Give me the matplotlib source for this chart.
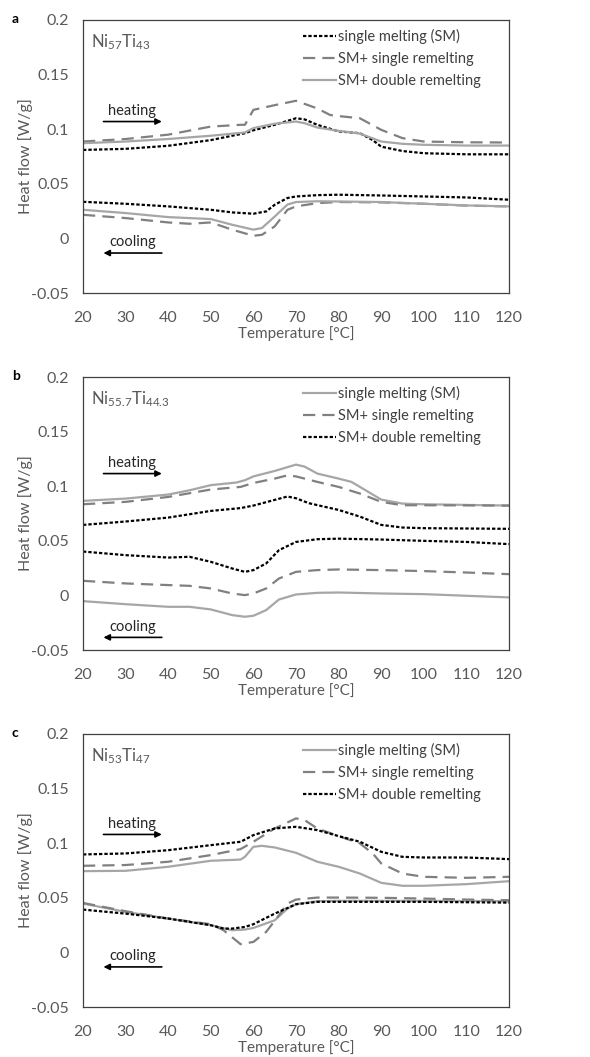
import matplotlib
matplotlib.use("Agg")
import matplotlib.pyplot as plt

plt.rcParams['font.family'] = ['Lato', 'DejaVu Sans']
plt.rcParams['mathtext.fontset'] = 'custom'
plt.rcParams['mathtext.rm'] = 'Lato'
plt.rcParams['mathtext.it'] = 'Lato'

GREY_TXT = '#595959'

# ---- panel a : Ni57Ti43 ----
a_sm_heat_x = [20, 30, 40, 50, 55, 58, 60, 65, 70, 72, 75, 80, 85, 88, 90, 95, 100, 110, 120]
a_sm_heat_y = [0.081, 0.082, 0.0848, 0.090, 0.094, 0.0963, 0.099, 0.104, 0.110, 0.109, 0.104, 0.098, 0.0963, 0.090, 0.084, 0.080, 0.078, 0.077, 0.077]
a_r1_heat_x = [20, 30, 40, 50, 57, 58, 60, 65, 70, 75, 78, 80, 85, 90, 95, 100, 110, 120]
a_r1_heat_y = [0.0887, 0.091, 0.095, 0.1024, 0.104, 0.104, 0.1177, 0.122, 0.126, 0.119, 0.113, 0.112, 0.110, 0.0994, 0.0918, 0.0887, 0.088, 0.0878]
a_r2_heat_x = [20, 30, 40, 50, 58, 60, 65, 70, 72, 75, 80, 85, 90, 95, 100, 110, 120]
a_r2_heat_y = [0.0872, 0.0887, 0.091, 0.094, 0.097, 0.101, 0.105, 0.107, 0.1055, 0.1015, 0.0985, 0.096, 0.0887, 0.0866, 0.0857, 0.085, 0.085]
a_sm_cool_x = [20, 30, 40, 50, 55, 60, 63, 65, 68, 70, 75, 80, 90, 100, 110, 120]
a_sm_cool_y = [0.0335, 0.0317, 0.0293, 0.0262, 0.0238, 0.0226, 0.0247, 0.0308, 0.037, 0.0384, 0.0396, 0.040, 0.0393, 0.0384, 0.0375, 0.0354]
a_r1_cool_x = [20, 30, 40, 45, 50, 55, 60, 62, 65, 68, 70, 75, 80, 90, 100, 110, 120]
a_r1_cool_y = [0.0216, 0.0186, 0.0146, 0.0134, 0.0146, 0.008, 0.0024, 0.0033, 0.011, 0.0262, 0.0293, 0.0323, 0.0333, 0.033, 0.0317, 0.030, 0.0293]
a_r2_cool_x = [20, 30, 40, 50, 55, 60, 62, 65, 68, 70, 75, 80, 90, 100, 110, 120]
a_r2_cool_y = [0.0262, 0.0232, 0.0195, 0.0177, 0.0125, 0.008, 0.0095, 0.020, 0.031, 0.0333, 0.034, 0.0338, 0.0333, 0.0317, 0.0302, 0.0293]

# ---- panel b : Ni55.7Ti44.3 ----
b_sm_heat_x = [20, 30, 40, 45, 50, 56, 58, 60, 65, 70, 72, 75, 80, 83, 85, 90, 95, 100, 120]
b_sm_heat_y = [0.0866, 0.0887, 0.0924, 0.0963, 0.101, 0.1034, 0.1055, 0.109, 0.114, 0.1198, 0.118, 0.1116, 0.107, 0.104, 0.0994, 0.0878, 0.0841, 0.0835, 0.0823]
b_r1_heat_x = [20, 30, 40, 50, 57, 60, 65, 68, 70, 75, 80, 85, 90, 95, 100, 120]
b_r1_heat_y = [0.0835, 0.0857, 0.0902, 0.097, 0.0994, 0.103, 0.107, 0.110, 0.109, 0.104, 0.0994, 0.0933, 0.0857, 0.0826, 0.0826, 0.0823]
b_r2_heat_x = [20, 30, 40, 50, 57, 60, 65, 68, 70, 73, 80, 85, 90, 95, 100, 120]
b_r2_heat_y = [0.0646, 0.0677, 0.0713, 0.0774, 0.080, 0.0823, 0.0875, 0.0906, 0.089, 0.0845, 0.0783, 0.0722, 0.0646, 0.0622, 0.0616, 0.061]
b_sm_cool_x = [20, 30, 40, 45, 50, 55, 58, 60, 63, 66, 70, 75, 80, 90, 100, 110, 120]
b_sm_cool_y = [-0.0052, -0.008, -0.0104, -0.0104, -0.0128, -0.018, -0.0195, -0.0186, -0.0134, -0.0037, 0.0009, 0.0024, 0.0027, 0.0018, 0.0012, -0.0003, -0.0018]
b_r1_cool_x = [20, 30, 40, 45, 50, 55, 58, 60, 63, 66, 70, 75, 80, 90, 100, 110, 120]
b_r1_cool_y = [0.0134, 0.011, 0.0095, 0.0088, 0.0064, 0.0018, 0.0003, 0.0018, 0.0064, 0.0155, 0.0216, 0.0232, 0.0238, 0.0232, 0.0223, 0.021, 0.0195]
b_r2_cool_x = [20, 30, 40, 45, 50, 55, 58, 60, 63, 66, 70, 75, 80, 90, 100, 110, 120]
b_r2_cool_y = [0.0402, 0.0369, 0.0347, 0.0354, 0.0308, 0.0247, 0.0216, 0.0232, 0.0293, 0.0415, 0.049, 0.0515, 0.052, 0.0512, 0.050, 0.049, 0.047]

# ---- panel c : Ni53Ti47 ----
c_sm_heat_x = [20, 30, 40, 50, 57, 58, 60, 62, 65, 70, 75, 80, 85, 90, 95, 100, 110, 120]
c_sm_heat_y = [0.0744, 0.0747, 0.0784, 0.0839, 0.085, 0.0875, 0.0967, 0.0976, 0.0961, 0.0912, 0.083, 0.0784, 0.0722, 0.0637, 0.061, 0.061, 0.0625, 0.0652]
c_r1_heat_x = [20, 30, 40, 50, 57, 60, 65, 70, 72, 75, 80, 85, 88, 90, 95, 100, 110, 120]
c_r1_heat_y = [0.0793, 0.080, 0.083, 0.0891, 0.0946, 0.1013, 0.1135, 0.1227, 0.1212, 0.1135, 0.1065, 0.0998, 0.0906, 0.0815, 0.0722, 0.0692, 0.0683, 0.0692]
c_r2_heat_x = [20, 30, 40, 50, 57, 60, 65, 70, 75, 80, 85, 90, 95, 100, 110, 120]
c_r2_heat_y = [0.0897, 0.0906, 0.0936, 0.0982, 0.1013, 0.1074, 0.1135, 0.115, 0.112, 0.1065, 0.1013, 0.0921, 0.0875, 0.0869, 0.0869, 0.0854]
c_sm_cool_x = [20, 30, 40, 50, 55, 58, 60, 65, 68, 70, 75, 80, 100, 120]
c_sm_cool_y = [0.0447, 0.0371, 0.031, 0.0249, 0.0203, 0.0209, 0.0224, 0.0294, 0.0401, 0.0441, 0.0469, 0.0472, 0.0472, 0.0469]
c_r1_cool_x = [20, 30, 40, 50, 53, 57, 60, 63, 66, 68, 70, 75, 80, 90, 100, 110, 120]
c_r1_cool_y = [0.0453, 0.0377, 0.031, 0.0258, 0.0203, 0.0075, 0.0096, 0.0188, 0.034, 0.0447, 0.0484, 0.0502, 0.0502, 0.050, 0.0493, 0.0484, 0.0478]
c_r2_cool_x = [20, 30, 40, 50, 53, 55, 58, 60, 65, 70, 75, 80, 100, 120]
c_r2_cool_y = [0.0392, 0.0355, 0.031, 0.0249, 0.0218, 0.0218, 0.0233, 0.0258, 0.0355, 0.0441, 0.0463, 0.0463, 0.0463, 0.0456]

legend_labels = ['single melting (SM)', 'SM+ single remelting', 'SM+ double remelting']
x_ticks = [20, 30, 40, 50, 60, 70, 80, 90, 100, 110, 120]
y_ticks = [-0.05, 0, 0.05, 0.1, 0.15, 0.2]
y_tick_labels = ['-0.05', '0', '0.05', '0.1', '0.15', '0.2']

STY = {
    'dot': dict(color='black', lw=1.6, linestyle=(0, (1.5, 0.9))),
    'dash': dict(color='#808080', lw=1.6, linestyle=(0, (5.5, 3.2))),
    'solid': dict(color='#a6a6a6', lw=1.6, linestyle='-'),
}

panels = [
    dict(tag='a', name=r'Ni$_{57}$Ti$_{43}$',
         series=[(a_sm_heat_x, a_sm_heat_y, a_sm_cool_x, a_sm_cool_y),
                 (a_r1_heat_x, a_r1_heat_y, a_r1_cool_x, a_r1_cool_y),
                 (a_r2_heat_x, a_r2_heat_y, a_r2_cool_x, a_r2_cool_y)],
         styles=['dot', 'dash', 'solid'],
         heat_y=0.107, cool_y=-0.0134),
    dict(tag='b', name=r'Ni$_{55.7}$Ti$_{44.3}$',
         series=[(b_sm_heat_x, b_sm_heat_y, b_sm_cool_x, b_sm_cool_y),
                 (b_r1_heat_x, b_r1_heat_y, b_r1_cool_x, b_r1_cool_y),
                 (b_r2_heat_x, b_r2_heat_y, b_r2_cool_x, b_r2_cool_y)],
         styles=['solid', 'dash', 'dot'],
         heat_y=0.1116, cool_y=-0.0384),
    dict(tag='c', name=r'Ni$_{53}$Ti$_{47}$',
         series=[(c_sm_heat_x, c_sm_heat_y, c_sm_cool_x, c_sm_cool_y),
                 (c_r1_heat_x, c_r1_heat_y, c_r1_cool_x, c_r1_cool_y),
                 (c_r2_heat_x, c_r2_heat_y, c_r2_cool_x, c_r2_cool_y)],
         styles=['solid', 'dash', 'dot'],
         heat_y=0.108, cool_y=-0.0133),
]

fig = plt.figure(figsize=(5.9, 10.57), dpi=100)
boxes = [(0.1407, 0.7228), (0.1407, 0.3850), (0.1407, 0.0473)]
W, H = 0.722, 0.2583

for p, (x0, y0) in zip(panels, boxes):
    ax = fig.add_axes([x0, y0, W, H])
    handles = []
    for (hx, hy, cx, cy), st, lab in zip(p['series'], p['styles'], legend_labels):
        ln, = ax.plot(hx, hy, label=lab, **STY[st])
        ax.plot(cx, cy, **STY[st])
        handles.append(ln)
    ax.set_xlim(20, 120)
    ax.set_ylim(-0.05, 0.2)
    ax.set_xticks(x_ticks)
    ax.set_yticks(y_ticks)
    ax.set_yticklabels(y_tick_labels)
    ax.tick_params(length=0, labelsize=11.5, colors=GREY_TXT)
    ax.tick_params(axis='x', pad=13)
    ax.tick_params(axis='y', pad=10)
    for s in ax.spines.values():
        s.set_color('#404040')
        s.set_linewidth(0.9)
    ax.set_xlabel('Temperature [°C]', fontsize=11, color=GREY_TXT, labelpad=1)
    ax.set_ylabel('Heat flow [W/g]', fontsize=11.5, color=GREY_TXT, labelpad=-1)

    leg = ax.legend(handles=handles, loc='upper right', bbox_to_anchor=(0.951, 0.995),
                    frameon=False, fontsize=10.5, handlelength=2.3, handletextpad=0.1,
                    labelspacing=0.55, borderpad=0)
    for t in leg.get_texts():
        t.set_color('#404040')

    ax.text(0.018, 0.955, p['name'], transform=ax.transAxes, fontsize=12,
            color=GREY_TXT, ha='left', va='top')

    ax.annotate('', xy=(38.5, p['heat_y']), xytext=(24.8, p['heat_y']),
                arrowprops=dict(arrowstyle='-|>', color='black', lw=1.2,
                                mutation_scale=9, shrinkA=0, shrinkB=0))
    ax.text(31.6, p['heat_y'] + 0.0035, 'heating', fontsize=10.5, color='#262626',
            ha='center', va='bottom')
    ax.annotate('', xy=(24.8, p['cool_y']), xytext=(38.5, p['cool_y']),
                arrowprops=dict(arrowstyle='-|>', color='black', lw=1.2,
                                mutation_scale=9, shrinkA=0, shrinkB=0))
    ax.text(31.6, p['cool_y'] + 0.0035, 'cooling', fontsize=10.5, color='#262626',
            ha='center', va='bottom')

    fig.text(0.02, y0 + H + 0.001, p['tag'], fontsize=10, fontweight='bold',
             ha='left', va='center')

fig.savefig('out.png', dpi=100)
